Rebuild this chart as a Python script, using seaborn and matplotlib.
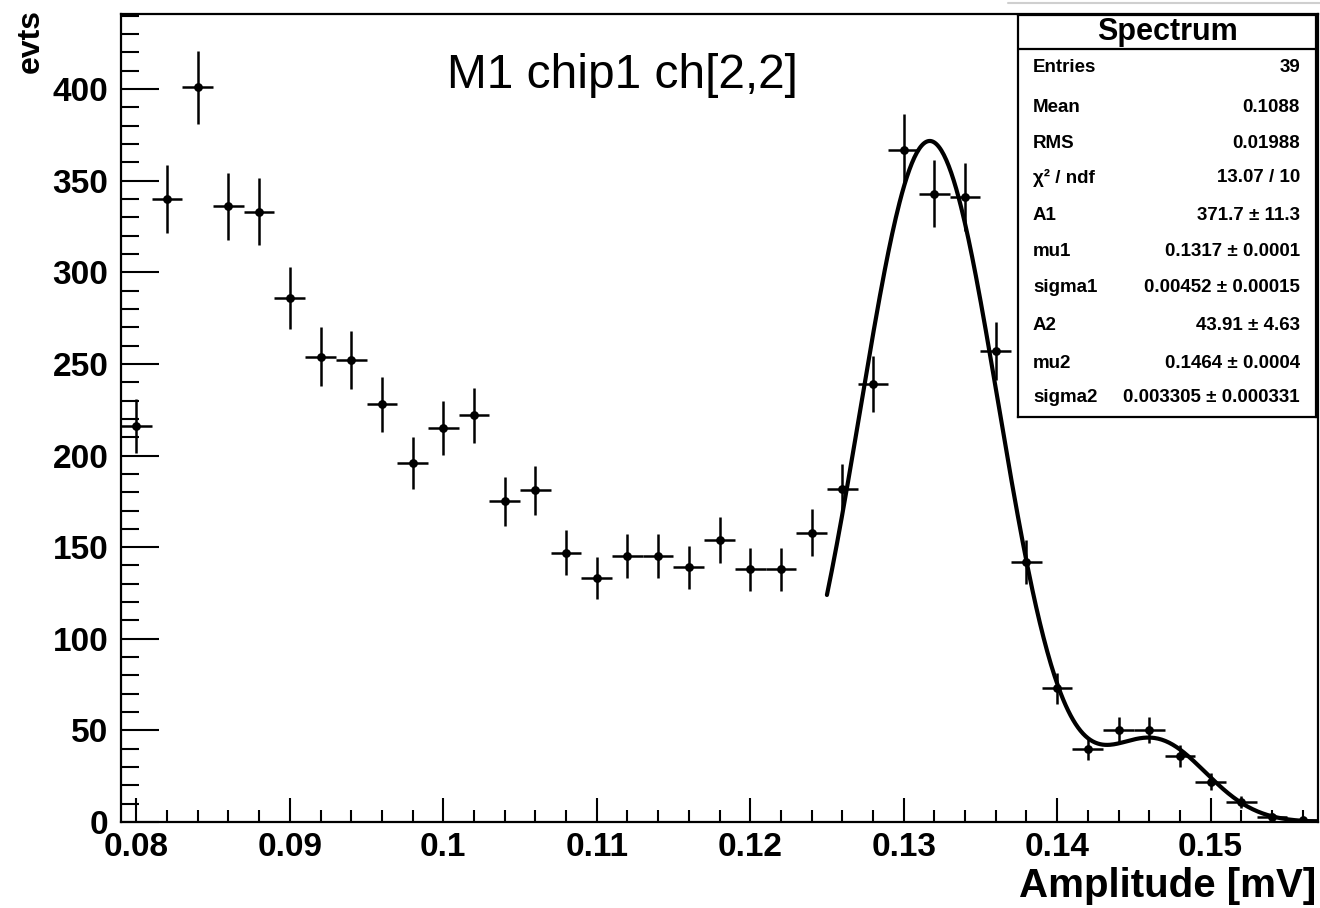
import numpy as np
import pandas as pd
import matplotlib
matplotlib.use("Agg")
import matplotlib.pyplot as plt
import seaborn as sns
from matplotlib.ticker import MultipleLocator, FixedLocator, FixedFormatter
from matplotlib.lines import Line2D

# histogram bins (centres, mV) and counts
bin_centers = [0.080, 0.082, 0.084, 0.086, 0.088, 0.090, 0.092, 0.094, 0.096, 0.098,
               0.100, 0.102, 0.104, 0.106, 0.108, 0.110, 0.112, 0.114, 0.116, 0.118,
               0.120, 0.122, 0.124, 0.126, 0.128, 0.130, 0.132, 0.134, 0.136, 0.138,
               0.140, 0.142, 0.144, 0.146, 0.148, 0.150, 0.152, 0.154, 0.156]
counts = [216, 340, 401, 336, 333, 286, 254, 252, 228, 196,
          215, 222, 175, 181, 147, 133, 145, 145, 139, 154,
          138, 138, 158, 182, 239, 367, 343, 341, 257, 142,
          73, 40, 50, 50, 36, 22, 11, 3, 1]
bin_width = 0.002

# double gaussian fit parameters (from the stats box)
A1, mu1, sigma1 = 371.7, 0.1317, 0.00452
A2, mu2, sigma2 = 43.91, 0.1464, 0.003305
fit_range = (0.125, 0.157)

x_ticks = [0.08, 0.09, 0.10, 0.11, 0.12, 0.13, 0.14, 0.15]
x_ticklabels = ["0.08", "0.09", "0.1", "0.11", "0.12", "0.13", "0.14", "0.15"]
y_ticks = [0, 50, 100, 150, 200, 250, 300, 350, 400]

stat_names = ["Entries", "Mean", "RMS", "\u03c7\u00b2 / ndf", "A1", "mu1", "sigma1", "A2", "mu2", "sigma2"]
stat_values = ["39", "0.1088", "0.01988", "13.07 / 10", "371.7 \u00b1 11.3", "0.1317 \u00b1 0.0001",
               "0.00452 \u00b1 0.00015", "43.91 \u00b1 4.63", "0.1464 \u00b1 0.0004",
               "0.003305 \u00b1 0.000331"]

df = pd.DataFrame({"amp": bin_centers, "evts": counts})
df["err"] = np.sqrt(df["evts"])

xf = np.linspace(fit_range[0], fit_range[1], 400)
fit = pd.DataFrame({"amp": xf,
                    "evts": A1 * np.exp(-0.5 * ((xf - mu1) / sigma1) ** 2)
                    + A2 * np.exp(-0.5 * ((xf - mu2) / sigma2) ** 2)})

sns.set_theme(style="ticks")
plt.rcParams["font.family"] = ["Liberation Sans", "DejaVu Sans"]
plt.rcParams["text.color"] = "black"
plt.rcParams["axes.labelcolor"] = "black"
plt.rcParams["xtick.color"] = "black"
plt.rcParams["ytick.color"] = "black"

W, H = 1320, 908
fig = plt.figure(figsize=(W / 100, H / 100), dpi=100)
fig.patch.set_facecolor("white")

# plot frame in pixels: left 121, right 1318, top 14, bottom 822
ax = fig.add_axes([121 / W, 1 - 822 / H, (1318 - 121) / W, (822 - 14) / H])
ax.set_facecolor("white")

ax.errorbar(df["amp"], df["evts"], xerr=bin_width / 2, yerr=df["err"],
            fmt="none", ecolor="black", elinewidth=1.8, capsize=0, zorder=3)
sns.scatterplot(data=df, x="amp", y="evts", ax=ax, color="black", marker="o",
                s=40, edgecolor="black", linewidth=0, zorder=4)
sns.lineplot(data=fit, x="amp", y="evts", ax=ax, color="black", linewidth=3.0, zorder=5)

ax.set_xlim(0.079, 0.157)
ax.set_ylim(0, 441)

ax.xaxis.set_major_locator(FixedLocator(x_ticks))
ax.xaxis.set_major_formatter(FixedFormatter(x_ticklabels))
ax.xaxis.set_minor_locator(MultipleLocator(0.002))
ax.yaxis.set_major_locator(FixedLocator(y_ticks))
ax.yaxis.set_minor_locator(MultipleLocator(10))

ax.tick_params(axis="x", which="major", direction="in", length=17, width=1.5,
               pad=7, labelsize=24, color="black", labelcolor="black")
ax.tick_params(axis="x", which="minor", direction="in", length=8.5, width=1.5, color="black")
ax.tick_params(axis="y", which="major", direction="in", length=27, width=1.5,
               pad=9, labelsize=24, color="black", labelcolor="black")
ax.tick_params(axis="y", which="minor", direction="in", length=13, width=1.5, color="black")
for lab in ax.get_xticklabels() + ax.get_yticklabels():
    lab.set_fontweight("bold")

for sp in ax.spines.values():
    sp.set_visible(True)
    sp.set_color("black")
    sp.set_linewidth(1.6)

ax.set_xlabel("Amplitude [mV]", fontsize=29, fontweight="bold", loc="right")
ax.xaxis.set_label_coords(0.9985, -0.056)
ax.set_ylabel("evts", fontsize=23, fontweight="bold", loc="top")
ax.yaxis.set_label_coords(-0.063, 1.006)

ax.text((447 - 121) / (1318 - 121), (822 - 76) / (822 - 14), "M1 chip1 ch[2,2]",
        transform=ax.transAxes, fontsize=34.5, va="center", ha="left", color="black")

# stats box
bl, br, bt, bb = 1018, 1316, 15, 417
sx = fig.add_axes([bl / W, 1 - bb / H, (br - bl) / W, (bb - bt) / H])
sx.set_facecolor("white")
sx.set_xlim(0, 1)
sx.set_ylim(0, 1)
sx.set_xticks([])
sx.set_yticks([])
for sp in sx.spines.values():
    sp.set_visible(True)
    sp.set_color("black")
    sp.set_linewidth(1.6)
div = (bb - 49) / (bb - bt)
sx.axhline(div, color="black", linewidth=1.6)
sx.text(0.5, (div + 1) / 2, "Spectrum", fontsize=22, fontweight="bold",
        ha="center", va="center")
row_y = [68, 108, 143, 178, 215, 252, 288, 325, 363, 398]
for name, val, py in zip(stat_names, stat_values, row_y):
    yy = (bb - py) / (bb - bt)
    sx.text(0.05, yy, name, fontsize=13.5, fontweight="bold", ha="left", va="center")
    sx.text(0.946, yy, val, fontsize=13.5, fontweight="bold", ha="right", va="center")

# faint strip at the very top right of the screenshot
fig.add_artist(Line2D([1008 / W, 1], [1 - 3 / H, 1 - 3 / H], color="#cfcfcf",
                      linewidth=1.5, transform=fig.transFigure))

fig.savefig("out.png", dpi=100, facecolor="white")
